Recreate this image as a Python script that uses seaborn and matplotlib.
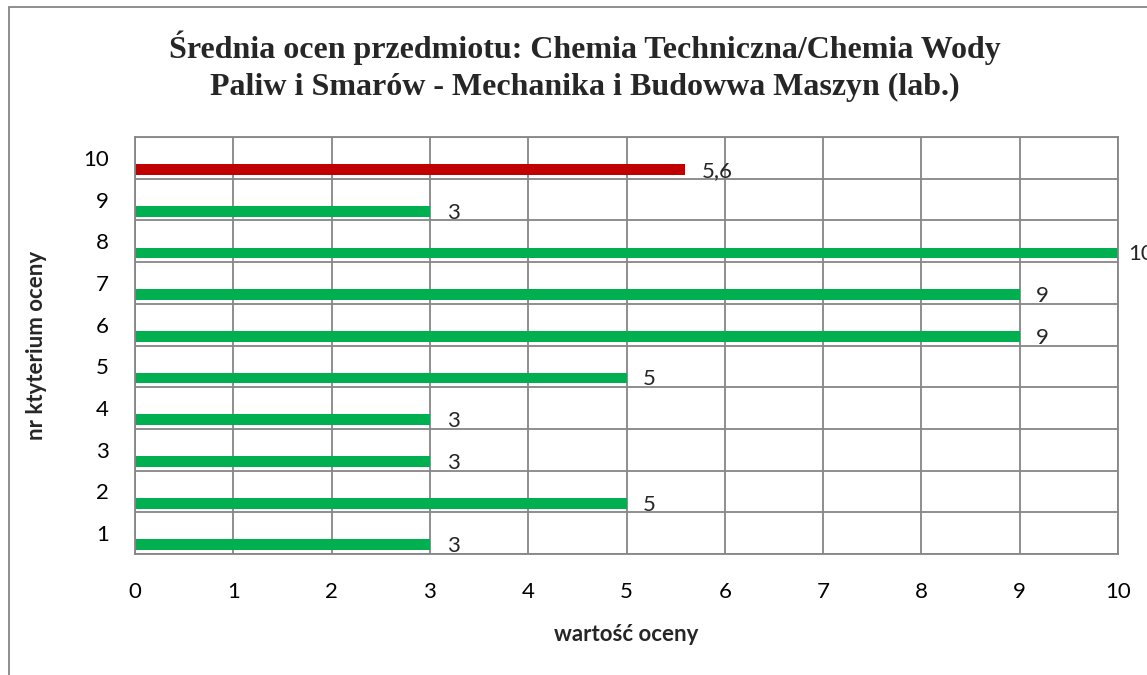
import numpy as np
import pandas as pd
import seaborn as sns
import matplotlib.pyplot as plt
from matplotlib.patches import Rectangle
from matplotlib.ticker import MultipleLocator

# dane z wykresu
kryteria = [1, 2, 3, 4, 5, 6, 7, 8, 9, 10]
oceny = [3, 5, 3, 3, 5, 9, 9, 10, 3, 5.6]
etykiety = ["3", "5", "3", "3", "5", "9", "9", "10", "3", "5,6"]
typ = ["kryterium"] * 9 + ["srednia"]
kolory = {"kryterium": "#00B050", "srednia": "#C00000"}

tytul = ("Średnia ocen przedmiotu: Chemia Techniczna/Chemia Wody\n"
         "Paliw i Smarów - Mechanika i Budowwa Maszyn (lab.)")

sns.set_style("white")
plt.rcParams['font.family'] = ['Lato', 'DejaVu Sans']

df = pd.DataFrame({"kryterium": kryteria, "ocena": oceny, "typ": typ})
# slupki sa przesuniete w dol wzgledem srodka kategorii (jak w Excelu)
df["poz"] = df["kryterium"] - 0.28

fig = plt.figure(figsize=(11.47, 6.75), dpi=100)
ax = fig.add_axes([135/1147, 1 - 554/675, (1118 - 135)/1147, (554 - 137)/675])

sns.barplot(data=df, x="ocena", y="poz", hue="typ", palette=kolory,
            orient="h", native_scale=True, dodge=False, width=0.26,
            saturation=1, legend=False, ax=ax, edgecolor="none", linewidth=0)

ax.set_xlim(0, 10)
ax.set_ylim(0.5, 10.5)
ax.xaxis.set_major_locator(MultipleLocator(1))
ax.set_yticks(kryteria)
ax.set_yticklabels([str(k) for k in kryteria])
ax.yaxis.set_minor_locator(MultipleLocator(1, offset=0.5))
ax.grid(True, axis="x", which="major", color="#868686", lw=1.3)
ax.grid(True, axis="y", which="minor", color="#868686", lw=1.3)
ax.grid(False, axis="y", which="major")
ax.set_axisbelow(True)
for s in ax.spines.values():
    s.set_visible(True)
    s.set_color("#868686")
    s.set_linewidth(1.3)
ax.tick_params(axis="both", which="both", length=0, labelsize=16, colors="black")
ax.tick_params(axis="x", pad=20)
ax.tick_params(axis="y", pad=19)

ax.set_xlabel("wartość oceny", fontsize=16, fontweight="bold", labelpad=16)
ax.set_ylabel("nr ktyterium oceny", fontsize=16, fontweight="bold", labelpad=26)

for x, y, t in zip(df["ocena"], df["poz"], etykiety):
    dx = 7 if x >= 10 else 12  # przy krawedzi Excel przesuwa etykiete w lewo
    ax.annotate(t, (x, y), xytext=(dx, -1), textcoords="offset points",
                ha="left", va="center", fontsize=16, annotation_clip=False)

fig.text(585/1147, 1 - 66/675, tytul, ha="center", va="center",
         fontsize=23, fontweight="bold", family="Liberation Serif",
         linespacing=1.35)

fig.patches.append(Rectangle((9/1147, -0.1), 1.2, 1.1 - 7/675, fill=False,
                             edgecolor="#868686", lw=1.3, transform=fig.transFigure))

fig.savefig("out.png", dpi=100)
